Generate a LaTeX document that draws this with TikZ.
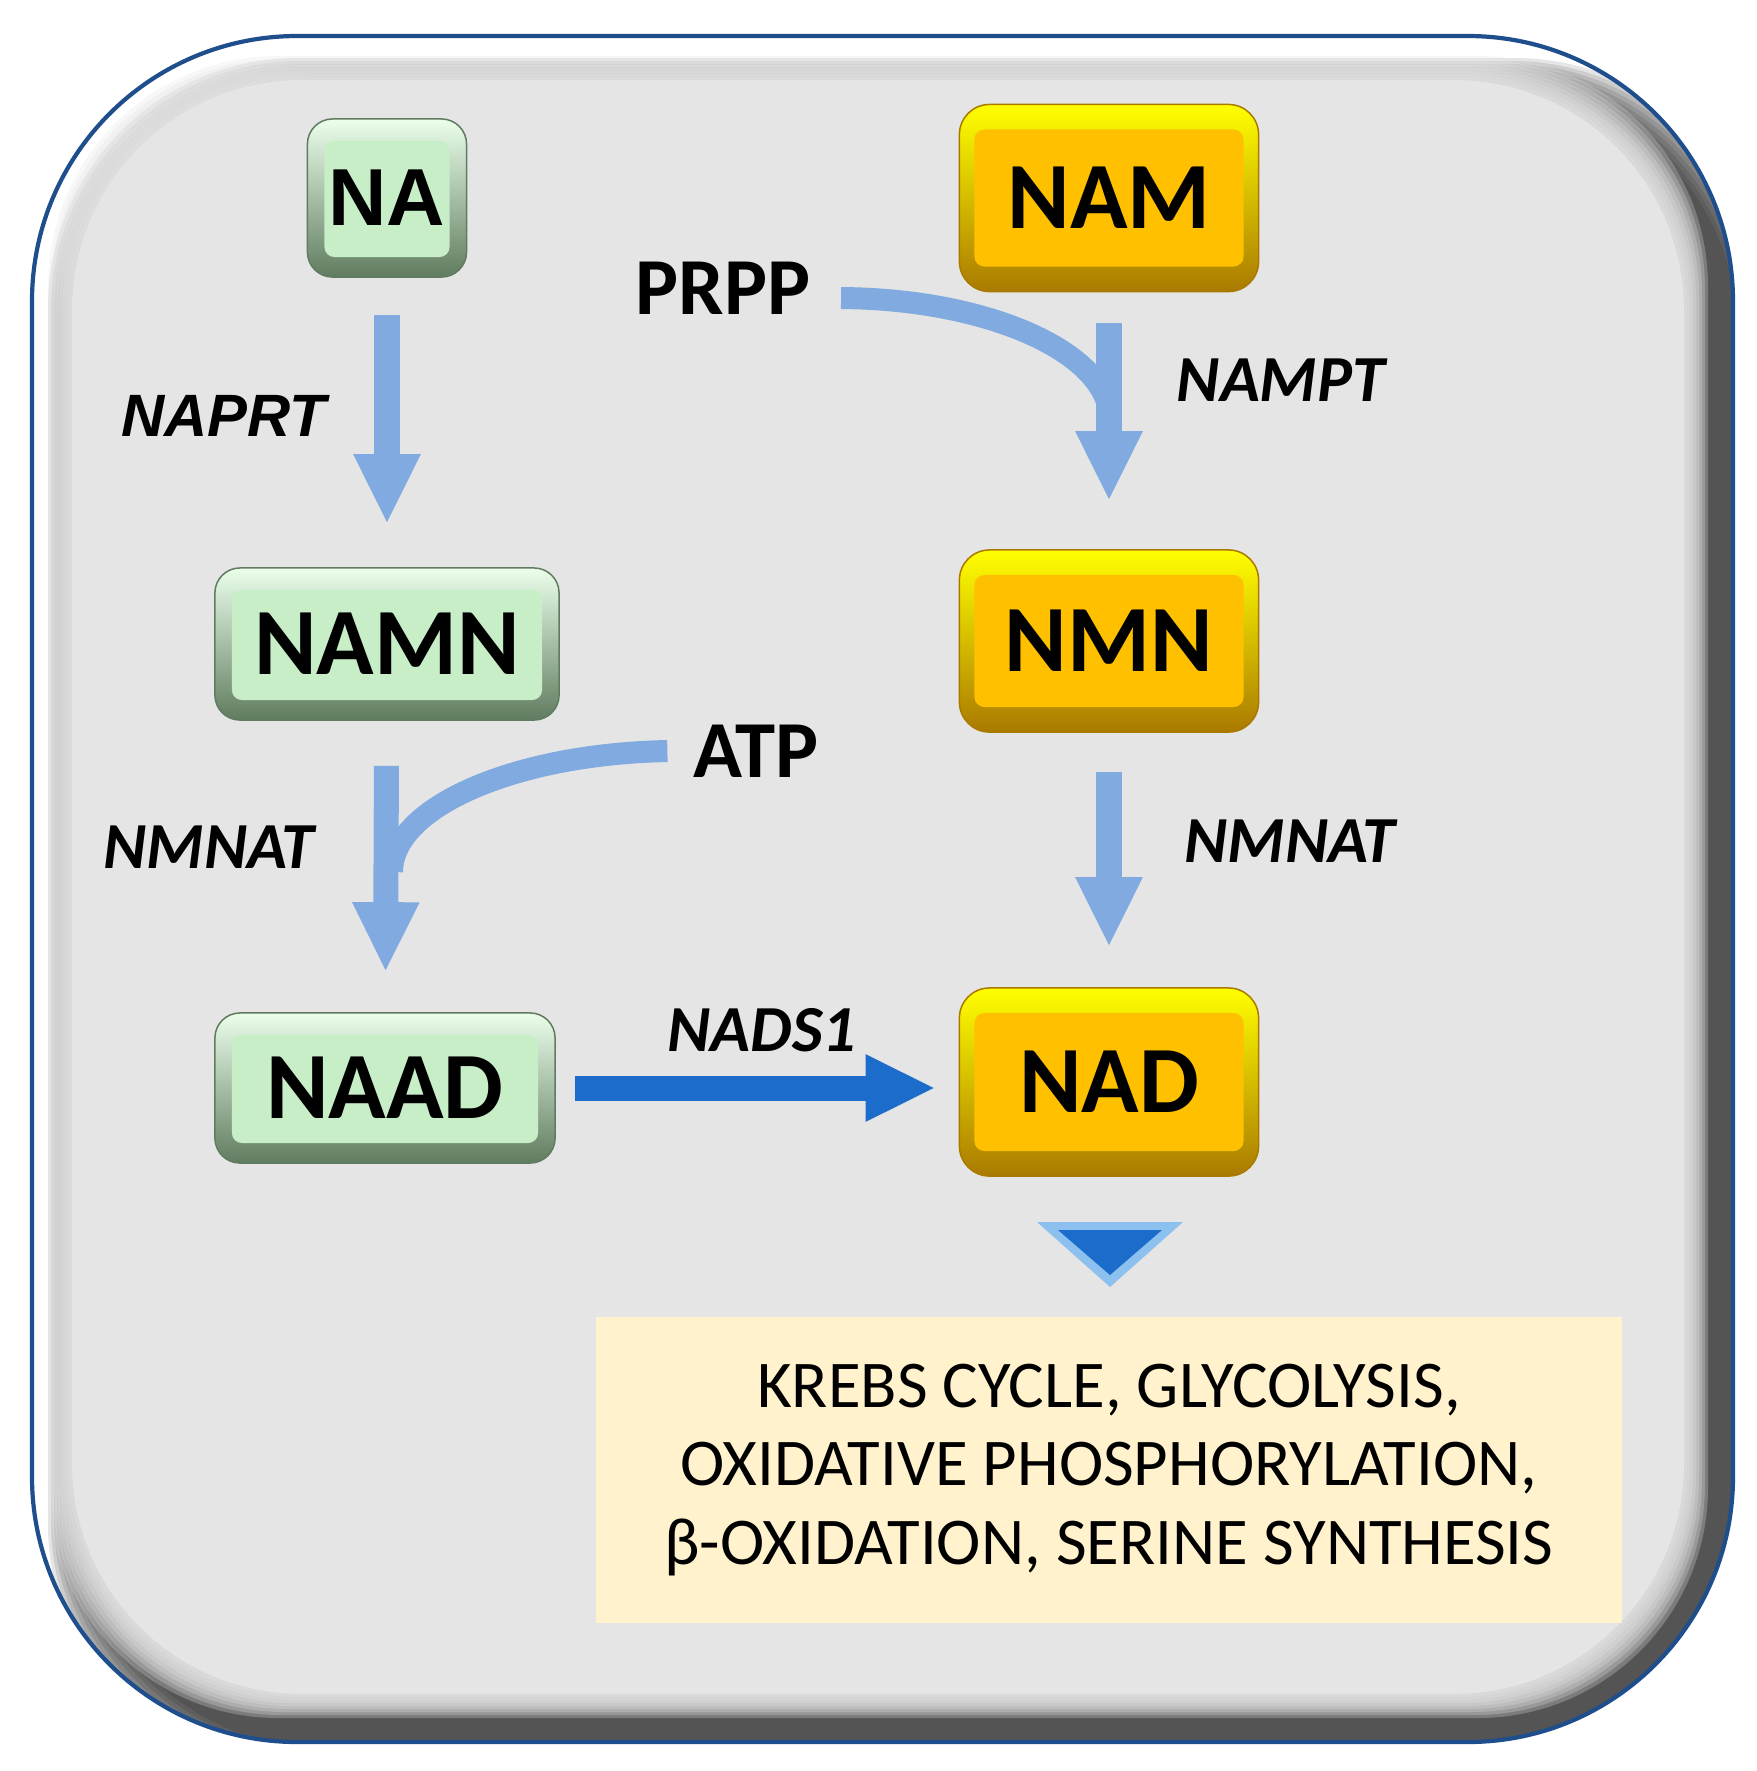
\documentclass[tikz,border=0pt]{standalone}
\usepackage{fontspec}
\setmainfont{Carlito}
\newfontfamily\arialfont{Liberation Sans}
\usetikzlibrary{arrows.meta}

\definecolor{framebg}{RGB}{229,229,229}
\definecolor{frameblue}{RGB}{31,78,140}
\definecolor{arrowlight}{RGB}{128,170,224}
\definecolor{arrowdark}{RGB}{28,108,204}
\definecolor{tipouter}{RGB}{140,192,238}
\definecolor{greenbody}{RGB}{200,238,200}
\definecolor{greentop}{RGB}{235,255,235}
\definecolor{greenbot}{RGB}{96,124,96}
\definecolor{orangebody}{RGB}{255,192,0}
\definecolor{orangetop}{RGB}{255,255,0}
\definecolor{orangebot}{RGB}{170,122,0}
\definecolor{notebg}{RGB}{255,242,204}

\begin{document}
\begin{tikzpicture}
  [x=0.01cm, y=-0.01cm,
   greenbox/.style={rectangle, rounded corners=0.25cm, inner sep=0pt,
     draw=greenbot, line width=0.015cm,
     top color=greentop, middle color=greenbody!75!black, bottom color=greenbot,
     path picture={\fill[greenbody, rounded corners=0.1cm]
       ([shift={(0.17cm,-0.22cm)}]path picture bounding box.north west) rectangle
       ([shift={(-0.17cm,0.2cm)}]path picture bounding box.south east);},
     font=\fontsize{27}{27}\selectfont\bfseries},
   orangebox/.style={rectangle, rounded corners=0.3cm, inner sep=0pt,
     draw=orangebot, line width=0.015cm,
     top color=orangetop, middle color=orangebody!85!black, bottom color=orangebot,
     path picture={\fill[orangebody, rounded corners=0.1cm]
       ([shift={(0.15cm,-0.25cm)}]path picture bounding box.north west) rectangle
       ([shift={(-0.15cm,0.25cm)}]path picture bounding box.south east);},
     minimum width=2.99cm,
     font=\fontsize{27}{27}\selectfont\bfseries},
   cofactor/.style={inner sep=0pt, font=\fontsize{23}{23}\selectfont\bfseries},
   enzyme/.style={inner sep=0pt, font=\fontsize{18.7}{18.7}\selectfont\bfseries\itshape},
   lightarrow/.style={draw=arrowlight, line width=0.25cm,
     -{Triangle[length=0.7cm,width=0.62cm]}},
   darkarrow/.style={draw=arrowdark, line width=0.25cm,
     -{Triangle[length=0.7cm,width=0.62cm]}},
   curveline/.style={draw=arrowlight, line width=0.22cm}]

  \useasboundingbox (0,0) rectangle (1757,1771);

  % frame with soft inner shadow
  \begin{scope}
    \clip[rounded corners=2.65cm] (32,36) rectangle (1733,1742);
    \fill[white] (32,36) rectangle (1733,1742);
    \foreach \d in {0,...,9}
      \fill[black, opacity=0.1, rounded corners=2.5cm]
        (48+3*\d,58+3*\d) rectangle (1765-3*\d,1775-3*\d);
    \foreach \d in {1,...,8}
      \fill[framebg, opacity=0.28, rounded corners=2.3cm]
        (72-3*\d,80-3*\d) rectangle (1684+3*\d,1694+3*\d);
    \fill[framebg, rounded corners=2.3cm] (72,80) rectangle (1684,1694);
  \end{scope}
  \draw[frameblue, line width=0.042cm, rounded corners=2.65cm]
    (32,36) rectangle (1733,1742);

  % metabolites
  \node[greenbox, minimum width=1.59cm, minimum height=1.58cm,
        font=\arialfont\fontsize{23}{23}\selectfont\bfseries] (na) at (387,198) {NA};
  \node[greenbox, minimum width=3.44cm, minimum height=1.52cm] (namn) at (387,644) {NAMN};
  \node[greenbox, minimum width=3.40cm, minimum height=1.50cm] (naad) at (385,1088) {NAAD};
  \node[orangebox, minimum height=1.87cm] (nam) at (1109,198) {NAM};
  \node[orangebox, minimum height=1.82cm] (nmn) at (1109,641) {NMN};
  \node[orangebox, minimum height=1.88cm] (nad) at (1109,1082) {NAD};

  \node[cofactor] (prpp) at (723,288) {PRPP};
  \node[cofactor] (atp) at (756,751) {ATP};

  \node[enzyme, font=\arialfont\fontsize{17}{17}\selectfont\bfseries\itshape] (naprt) at (224,416) {NAPRT};
  \node[enzyme] (nampt) at (1281,380) {NAMPT};
  \node[enzyme] (nmnatl) at (209,847) {NMNAT};
  \node[enzyme] (nmnatr) at (1290,841) {NMNAT};
  \node[enzyme] (nads) at (762,1030) {NADS1};

  \coordinate (prppjoin) at (1110,420);
  \coordinate (atpjoin) at (392,872);

  % co-substrates
  \draw[curveline] ([shift={(0.3cm,-0.1cm)}]prpp.east)
    .. controls (989,299) and (1110,353) .. (prppjoin);
  \draw[curveline] ([shift={(-0.25cm,0cm)}]atp.west)
    .. controls (515,754) and (392,807) .. (atpjoin);

  \foreach \from/\to/\sa/\sb in {na/namn/0.37/0.43, nam/nmn/0.31/0.48,
                                 nmn/nad/0.39/0.40, namn/naad/0.45/0.40}
    \draw[lightarrow, shorten <=\sa cm, shorten >=\sb cm] (\from) -- (\to);

  \draw[darkarrow, shorten <=0.19cm, shorten >=0.23cm] (naad.east) -- (naad.east -| nad.west);

  % downstream
  \fill[tipouter] (1037,1222) -- (1183,1222) -- (1110,1287) -- cycle;
  \fill[arrowdark] (1058,1230) -- (1162,1230) -- (1110,1275) -- cycle;

  \node[fill=notebg, minimum width=10.26cm, minimum height=3.05cm, align=center,
        font=\fontsize{19}{22.4}\selectfont] (pathways) at (1109,1470)
    {KREBS CYCLE, GLYCOLYSIS,\\OXIDATIVE PHOSPHORYLATION,\\β-OXIDATION, SERINE SYNTHESIS};
\end{tikzpicture}
\end{document}
